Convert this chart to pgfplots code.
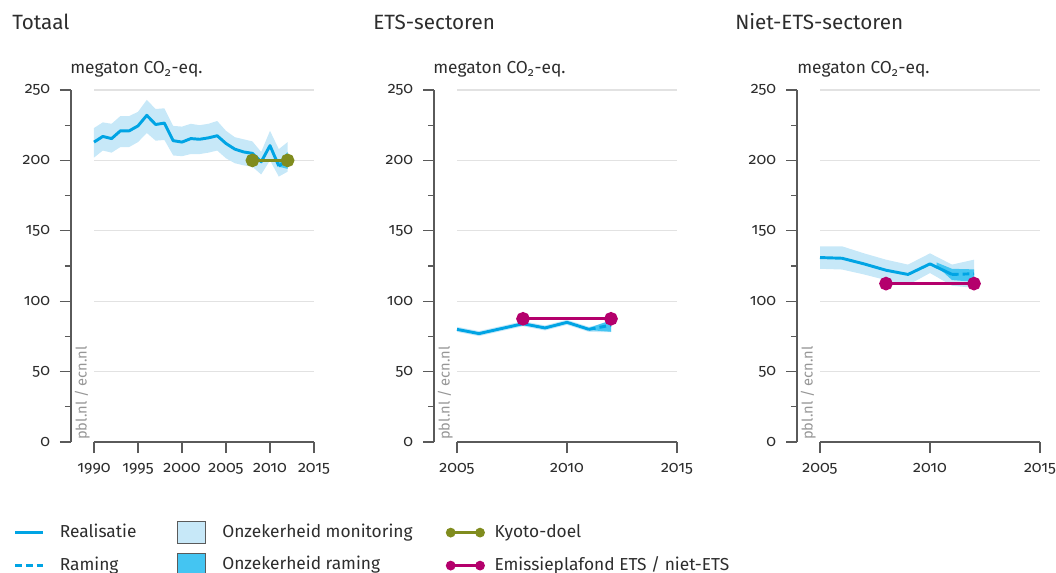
\documentclass[border=0pt]{standalone}
\usepackage{pgfplots}
\pgfplotsset{compat=1.18}
\usepackage{fontspec}
\setmainfont{Fira Sans}[Numbers=OldStyle, RawFeature=+onum]
\definecolor{lijn}{RGB}{0,164,228}
\definecolor{bandlicht}{RGB}{199,232,248}
\definecolor{banddonker}{RGB}{68,197,242}
\definecolor{kyoto}{RGB}{128,140,30}
\definecolor{plafond}{RGB}{180,0,108}
\definecolor{asgrijs}{RGB}{90,90,90}
\definecolor{rastergrijs}{RGB}{226,226,226}
\definecolor{tekst}{RGB}{45,45,45}
\definecolor{watermerk}{RGB}{150,150,150}

\pgfplotsset{
  paneel/.style={
    width=165pt, height=264pt, scale only axis,
    ymin=0, ymax=250,
    axis x line=bottom, axis y line=left,
    axis y line shift=17.25pt,
    axis line style={-, draw=asgrijs, line width=0.8pt},
    ytick={0,50,...,250}, minor ytick={25,75,...,225},
    ymajorgrids, major grid style={draw=rastergrijs, line width=0.8pt},
    tick align=outside, major tick length=8.25pt, minor tick length=4.5pt,
    tick style={draw=asgrijs, line width=0.8pt},
    tick label style={font=\fontsize{12}{14}\selectfont, text=tekst},
    yticklabel style={xshift=-4pt},
    xticklabel style={yshift=-4.5pt},
    /pgf/number format/assume math mode=true,
    /pgf/number format/1000 sep={},
    clip=false,
    legend style={draw=none, fill=none, inner sep=0pt, anchor=north west,
      font=\fontsize{13}{15}\selectfont, text=tekst,
      nodes={inner sep=0pt, text height=12.75pt, text depth=3.75pt},
      row sep=8.25pt},
    legend cell align=left,
  },
  realisatie/.style={lijn, line width=2.2pt, line join=round, forget plot},
  raming/.style={lijn, line width=2.2pt, dash pattern=on 5pt off 3pt, forget plot},
  monitoring/.style={fill=bandlicht, draw=none, forget plot},
  ramingband/.style={fill=banddonker, draw=none, forget plot},
  lijnlegenda/.style={legend image code/.code={\draw[##1] (0pt,-1pt) -- (21pt,-1pt);}},
  vlaklegenda/.style={legend image code/.code={\draw[##1] (0pt,-9.25pt) rectangle (21pt,7.25pt);}},
  doellegenda/.style={legend image code/.code={\draw[##1] plot coordinates {(2.5pt,-1pt) (24.5pt,-1pt)};}},
}

\begin{document}
\begin{tikzpicture}
\useasboundingbox (0,0) rectangle (792pt,-429.75pt);

% ---------------- Totaal ----------------
\begin{axis}[paneel,
  at={(70.5pt,-331.5pt)}, anchor=south west,
  xmin=1990, xmax=2015, xtick={1990,1995,...,2015},
  legend style={at={(-0.3653,-0.2216)},
    /tikz/every odd column/.append style={column sep=11.25pt}},
]
\addplot[monitoring] coordinates {
 (1990,223) (1991,227) (1992,226) (1993,231.5) (1994,231.5) (1995,234.5)
 (1996,243) (1997,236.5) (1998,237) (1999,224.5) (2000,224) (2001,226)
 (2002,225) (2003,226) (2004,228) (2005,221) (2006,216.5) (2007,215)
 (2008,213.5) (2009,206) (2010,221) (2011,208) (2012,213)
 (2012,192) (2011,188.5) (2010,200) (2009,190) (2008,195.5) (2007,196.5)
 (2006,198) (2005,201.5) (2004,207) (2003,205.5) (2002,204.5) (2001,204.5)
 (2000,203) (1999,203.5) (1998,214.5) (1997,214) (1996,219.5) (1995,213)
 (1994,209.5) (1993,209.5) (1992,205.5) (1991,207) (1990,202)
} -- cycle;
\addplot[ramingband] coordinates {
 (2010.5,204) (2011,199) (2012,206) (2012,194) (2011,195.5) (2010.5,203)
} -- cycle;
\addplot[realisatie] coordinates {
 (1990,213) (1991,217) (1992,215.5) (1993,221) (1994,221) (1995,224.5)
 (1996,232) (1997,225.5) (1998,226.5) (1999,214) (2000,213) (2001,215.5)
 (2002,215) (2003,216) (2004,217.5) (2005,212) (2006,208) (2007,206)
 (2008,205) (2009,199) (2010,210.5) (2011,196)
};
\addplot[raming] coordinates {(2011,196) (2012,200)};
\addplot[kyoto, line width=2.2pt, mark=*, mark size=4pt, forget plot]
  coordinates {(2008,200) (2012,200)};

\addlegendimage{lijnlegenda, lijn, line width=2.2pt}
\addlegendentry{Realisatie}
\addlegendimage{lijnlegenda, lijn, line width=2.2pt, dash pattern=on 5pt off 3pt}
\addlegendentry{Raming}
\end{axis}

% ---------------- ETS ----------------
\begin{axis}[paneel,
  at={(342.75pt,-331.5pt)}, anchor=south west,
  xmin=2005, xmax=2015, xtick={2005,2010,2015},
  legend style={at={(-1.2727,-0.2216)}, row sep=6.35pt,
    /tikz/every odd column/.append style={column sep=12pt}},
]
\addplot[monitoring] coordinates {
 (2005,81.8) (2006,78.8) (2007,82.3) (2008,85.8) (2009,82.8) (2010,86.8)
 (2011,81.8) (2012,85.5)
 (2012,78) (2011,78.2) (2010,83.2) (2009,79.2) (2008,82.2) (2007,78.7)
 (2006,75.2) (2005,78.2)
} -- cycle;
\addplot[ramingband] coordinates {
 (2011,81) (2012,86.5) (2012,78.3) (2011,79.5)
} -- cycle;
\addplot[realisatie] coordinates {
 (2005,80) (2006,77) (2007,80.5) (2008,84) (2009,81) (2010,85) (2011,80)
};
\addplot[raming] coordinates {(2011,80) (2012,83)};
\addplot[plafond, line width=2.2pt, mark=*, mark size=4pt, forget plot]
  coordinates {(2008,87.5) (2012,87.5)};

\addlegendimage{vlaklegenda, draw=asgrijs, line width=0.8pt, fill=bandlicht}
\addlegendentry{Onzekerheid monitoring}
\addlegendimage{vlaklegenda, draw=asgrijs, line width=0.8pt, fill=banddonker}
\addlegendentry{Onzekerheid raming}
\end{axis}

% ---------------- Niet-ETS ----------------
\begin{axis}[paneel,
  at={(615pt,-331.5pt)}, anchor=south west,
  xmin=2005, xmax=2015, xtick={2005,2010,2015},
  legend style={at={(-1.6955,-0.2216)},
    /tikz/every odd column/.append style={column sep=8.25pt}},
]
\addplot[monitoring] coordinates {
 (2005,139) (2006,139) (2007,134) (2008,129.5) (2009,126) (2010,134)
 (2011,126) (2012,129.5)
 (2012,109.5) (2011,111) (2010,120) (2009,111.5) (2008,115) (2007,119)
 (2006,122.5) (2005,123)
} -- cycle;
\addplot[ramingband] coordinates {
 (2010.3,127.5) (2011,123) (2012,122.6) (2012,113.8) (2011,115) (2010.3,125)
} -- cycle;
\addplot[realisatie] coordinates {
 (2005,131) (2006,130.5) (2007,126.5) (2008,122) (2009,119) (2010,126.5) (2011,119)
};
\addplot[raming] coordinates {(2011,119) (2012,119.5)};
\addplot[plafond, line width=2.2pt, mark=*, mark size=4pt, forget plot]
  coordinates {(2008,112.5) (2012,112.5)};

\addlegendimage{doellegenda, kyoto, line width=2pt, mark=*, mark size=2.6pt}
\addlegendentry{Kyoto-doel}
\addlegendimage{doellegenda, plafond, line width=2pt, mark=*, mark size=2.6pt}
\addlegendentry{Emissieplafond ETS / niet-ETS}
\end{axis}

% ---------------- titels en bronvermelding ----------------
\begin{scope}[x=0.75pt, y=-0.75pt, every node/.style={inner sep=0pt, text=tekst}]
\node[anchor=base west, font=\fontsize{15.5}{18}\selectfont] at (12,30) {Totaal};
\node[anchor=base west, font=\fontsize{15.5}{18}\selectfont] at (373,30) {ETS-sectoren};
\node[anchor=base west, font=\fontsize{15.5}{18}\selectfont] at (735,30) {Niet-ETS-sectoren};
\node[anchor=base west, font=\fontsize{13}{15}\selectfont] at (70,74) {megaton CO\textsubscript{2}-eq.};
\node[anchor=base west, font=\fontsize{13}{15}\selectfont] at (433,74) {megaton CO\textsubscript{2}-eq.};
\node[anchor=base west, font=\fontsize{13}{15}\selectfont] at (797,74) {megaton CO\textsubscript{2}-eq.};
\node[anchor=base west, rotate=90, font=\fontsize{11}{13}\selectfont, text=watermerk] at (86.5,440) {pbl.nl / ecn.nl};
\node[anchor=base west, rotate=90, font=\fontsize{11}{13}\selectfont, text=watermerk] at (449.5,440) {pbl.nl / ecn.nl};
\node[anchor=base west, rotate=90, font=\fontsize{11}{13}\selectfont, text=watermerk] at (812.5,440) {pbl.nl / ecn.nl};
\end{scope}
\end{tikzpicture}
\end{document}
